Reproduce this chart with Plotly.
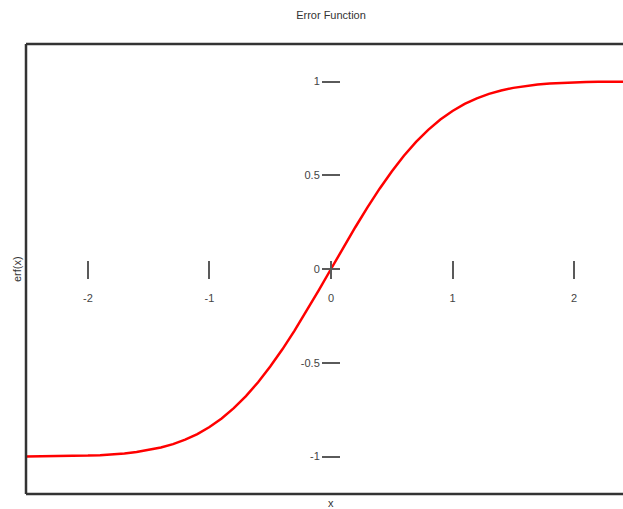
import plotly.graph_objects as go

# values
x_vals = [-2.51, -2.4, -2.3, -2.2, -2.1, -2.0, -1.9, -1.8, -1.7, -1.6, -1.5, -1.4, -1.3, -1.2, -1.1,
          -1.0, -0.9, -0.8, -0.7, -0.6, -0.5, -0.4, -0.3, -0.2, -0.1, 0.0,
          0.1, 0.2, 0.3, 0.4, 0.5, 0.6, 0.7, 0.8, 0.9, 1.0, 1.1, 1.2, 1.3, 1.4,
          1.5, 1.6, 1.7, 1.8, 1.9, 2.0, 2.1, 2.2, 2.3, 2.41]
erf_vals = [-0.9996, -0.9993, -0.9989, -0.9981, -0.9970, -0.9953, -0.9928, -0.9891, -0.9838, -0.9763,
            -0.9661, -0.9523, -0.9340, -0.9103, -0.8802, -0.8427, -0.7969, -0.7421, -0.6778, -0.6039,
            -0.5205, -0.4284, -0.3286, -0.2227, -0.1125, 0.0,
            0.1125, 0.2227, 0.3286, 0.4284, 0.5205, 0.6039, 0.6778, 0.7421, 0.7969, 0.8427,
            0.8802, 0.9103, 0.9340, 0.9523, 0.9661, 0.9763, 0.9838, 0.9891, 0.9928, 0.9953,
            0.9970, 0.9981, 0.9989, 0.9993]
x_ticks = [-2, -1, 0, 1, 2]
x_tick_text = ["-2", "-1", "0", "1", "2"]
y_ticks = [-1, -0.5, 0, 0.5, 1]
y_tick_text = ["-1", "-0.5", "0", "0.5", "1"]

x_range = [-2.51, 2.403]
y_range = [-1.2, 1.2]

W, H = 623, 509
ML, MR, MT, MB = 26, 0, 44, 15
PW, PH = W - ML - MR, H - MT - MB
TL = 18  # full tick length, centred on the zero lines

# axis positions: shifted by half a tick so the ticks straddle the zero lines
y_axis_pos = (0 - x_range[0]) / (x_range[1] - x_range[0]) + (TL / 2) / PW
x_axis_pos = (0 - y_range[0]) / (y_range[1] - y_range[0]) + (TL / 2) / PH

FONT = "Liberation Sans, Arial, sans-serif"
TICKC = "#5a5a5a"

fig = go.Figure()
fig.add_trace(go.Scatter(x=x_vals, y=erf_vals, mode="lines",
                         line=dict(color="#ff0000", width=2.5), showlegend=False))

fig.update_layout(
    width=W, height=H,
    margin=dict(l=ML, r=MR, t=MT, b=MB),
    paper_bgcolor="white", plot_bgcolor="white",
    font=dict(family=FONT, size=11, color="#333333"),
    title=dict(text="Error Function", x=(ML + PW * (y_axis_pos - (TL / 2) / PW)) / W,
               xanchor="center", y=1 - 15 / H, yanchor="middle", yref="container",
               font=dict(family=FONT, size=11, color="#333333")),
    xaxis=dict(range=x_range, tickvals=x_ticks, ticktext=x_tick_text, showgrid=False,
               zeroline=False, showline=False, ticks="outside", ticklen=TL, tickwidth=2,
               tickcolor=TICKC, anchor="free", position=x_axis_pos, ticklabelstandoff=10,
               tickfont=dict(size=11, color="#444444")),
    yaxis=dict(range=y_range, tickvals=y_ticks, ticktext=y_tick_text, showgrid=False,
               zeroline=False, showline=False, ticks="outside", ticklen=TL, tickwidth=2,
               tickcolor=TICKC, anchor="free", position=y_axis_pos,
               tickfont=dict(size=11, color="#444444")),
    shapes=[
        dict(type="line", xref="paper", yref="paper", x0=0, x1=0, y0=0, y1=1,
             line=dict(color="#333333", width=2.5)),
        dict(type="line", xref="paper", yref="paper", x0=0, x1=1.02, y0=1, y1=1,
             line=dict(color="#333333", width=2.5)),
        dict(type="line", xref="paper", yref="paper", x0=0, x1=1.02, y0=0, y1=0,
             line=dict(color="#333333", width=2.5)),
    ],
    annotations=[
        dict(text="erf(x)", xref="paper", yref="paper", x=-9 / PW, y=0.5,
             textangle=-90, showarrow=False, xanchor="center", yanchor="middle",
             font=dict(size=11, color="#333333")),
        dict(text="x", xref="x", yref="paper", x=0, y=-9 / PH,
             showarrow=False, xanchor="center", yanchor="middle",
             font=dict(size=11, color="#333333")),
    ],
)

fig.write_html("out.html", config={"displayModeBar": False},
               post_script="document.body.style.margin='0';document.body.style.overflow='hidden';")
